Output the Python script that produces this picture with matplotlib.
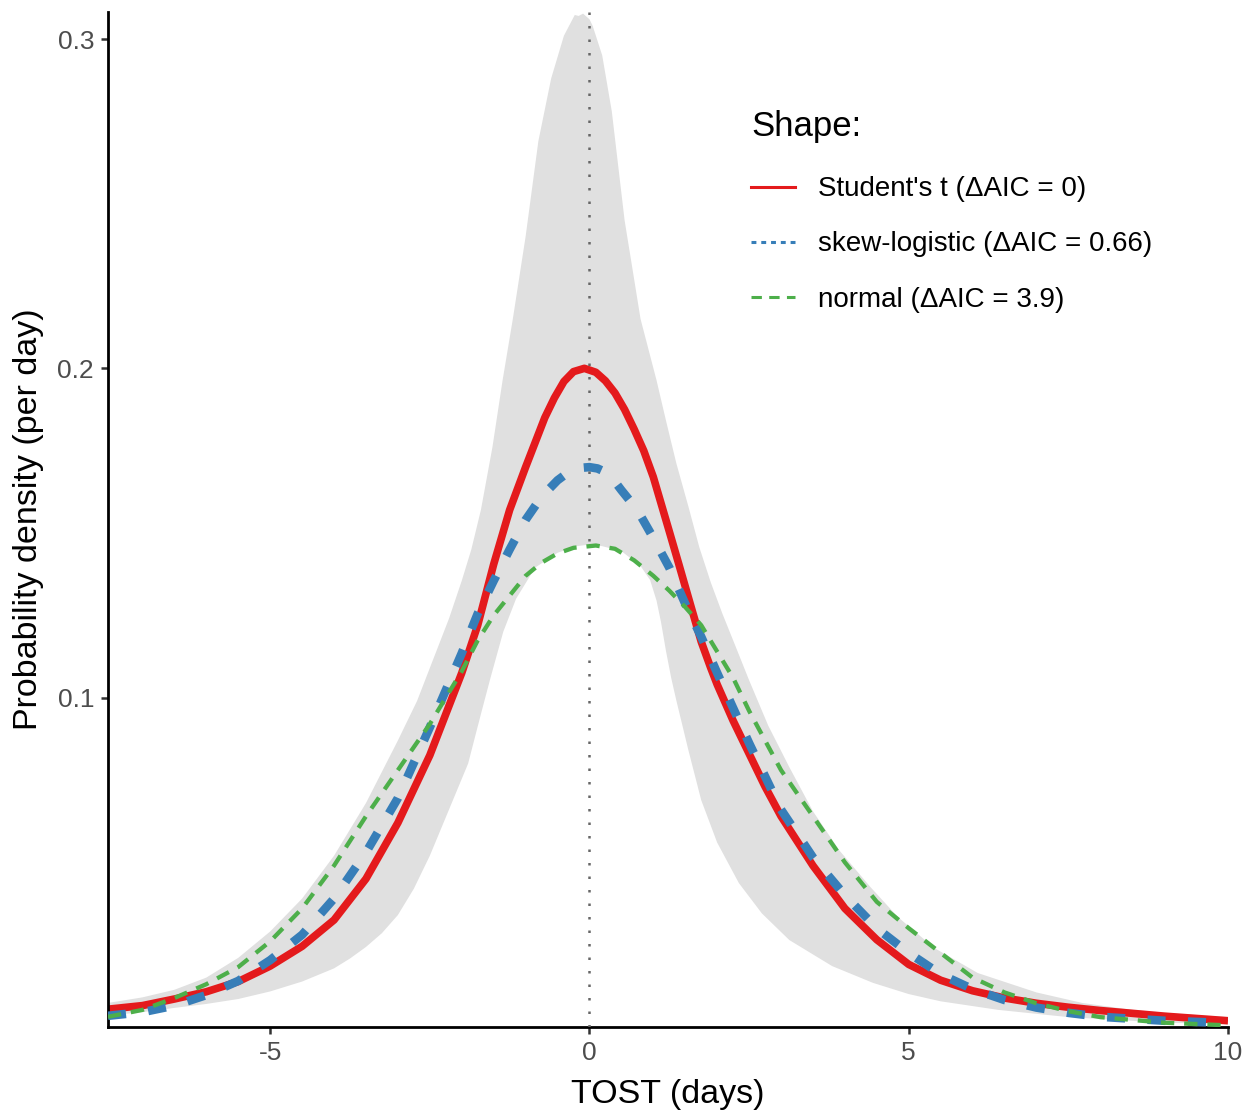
import numpy as np
import matplotlib
matplotlib.use("Agg")
import matplotlib.pyplot as plt
from matplotlib.lines import Line2D

plt.rcParams['font.family'] = ['Liberation Sans', 'DejaVu Sans']

# ---- data ----
band_hi_x = [-7.54, -7.0, -6.5, -6.0, -5.5, -5.0, -4.5, -4.0, -3.5, -3.0, -2.7, -2.45, -2.2, -2.0,
             -1.85, -1.7, -1.52, -1.36, -1.2, -1.0, -0.8, -0.6, -0.4, -0.23, -0.17, -0.1, 0.0,
             0.05, 0.2, 0.35, 0.55, 0.8, 1.05, 1.2, 1.36, 1.55, 1.72, 1.9, 2.08, 2.3, 2.5, 2.8,
             3.13, 3.5, 3.91, 4.4, 4.83, 5.4, 6.08, 7.0, 7.72, 8.5, 9.2, 10.0]
band_hi_y = [0.0073, 0.0090, 0.0113, 0.0150, 0.0210, 0.0290, 0.0390, 0.0520, 0.0680, 0.0870, 0.0990,
             0.1115, 0.1240, 0.1355, 0.1450, 0.1570, 0.1760, 0.1964, 0.2150, 0.2400, 0.2690, 0.2880,
             0.3010, 0.3073, 0.3070, 0.3077, 0.3060, 0.3040, 0.2950, 0.2780, 0.2450, 0.2150, 0.1964,
             0.1840, 0.1712, 0.1580, 0.1457, 0.1350, 0.1256, 0.1150, 0.1053, 0.0915, 0.0789, 0.0655,
             0.0537, 0.0425, 0.0334, 0.0240, 0.0164, 0.0105, 0.0073, 0.0052, 0.0040, 0.0030]

band_lo_x = [-7.54, -7.0, -6.5, -6.0, -5.5, -5.0, -4.5, -4.0, -3.75, -3.5, -3.25, -3.0, -2.75, -2.5,
             -2.2, -1.9, -1.7, -1.55, -1.35, -1.15, -0.85, -0.5, -0.2, 0.0, 0.2, 0.5, 0.8, 0.95,
             1.05, 1.12, 1.2, 1.28, 1.36, 1.55, 1.75, 2.0, 2.34, 2.7, 3.13, 3.8, 4.44, 5.0, 5.5,
             6.4, 7.5, 9.0, 10.0]
band_lo_y = [0.0035, 0.0045, 0.0058, 0.0070, 0.0085, 0.0108, 0.0138, 0.0178, 0.0208, 0.0243, 0.0285,
             0.0340, 0.0420, 0.0520, 0.0660, 0.0800, 0.0950, 0.1060, 0.1200, 0.1300, 0.1395, 0.1440,
             0.1460, 0.1465, 0.1460, 0.1445, 0.1400, 0.1357, 0.1295, 0.1230, 0.1140, 0.1060, 0.0992,
             0.0840, 0.0689, 0.0560, 0.0437, 0.0345, 0.0264, 0.0185, 0.0134, 0.0100, 0.0078, 0.0052,
             0.0030, 0.0013, 0.0009]

t_x = [-7.54, -7.0, -6.5, -6.0, -5.5, -5.0, -4.5, -4.0, -3.5, -3.0, -2.5, -2.0, -1.75, -1.5, -1.25,
       -1.0, -0.85, -0.7, -0.55, -0.4, -0.25, -0.08, 0.1, 0.25, 0.4, 0.55, 0.7, 0.85, 1.0, 1.25,
       1.4, 1.6, 1.75, 1.9, 2.0, 2.25, 2.5, 2.75, 3.0, 3.5, 4.0, 4.5, 5.0, 5.5, 6.0, 6.5, 7.0,
       7.5, 8.0, 9.0, 10.0]
t_y = [0.0054, 0.0065, 0.0085, 0.0107, 0.0138, 0.0185, 0.0245, 0.0325, 0.0450, 0.0620, 0.0825,
       0.1075, 0.1220, 0.1405, 0.1570, 0.1700, 0.1775, 0.1850, 0.1910, 0.1960, 0.1990, 0.2000,
       0.1988, 0.1962, 0.1925, 0.1875, 0.1815, 0.1750, 0.1670, 0.1505, 0.1405, 0.1270, 0.1170,
       0.1090, 0.1040, 0.0930, 0.0830, 0.0730, 0.0640, 0.0490, 0.0360, 0.0265, 0.0190, 0.0142,
       0.0110, 0.0088, 0.0072, 0.0060, 0.0050, 0.0033, 0.0019]

sl_x = [-7.54, -7.0, -6.5, -6.0, -5.5, -5.0, -4.5, -4.0, -3.5, -3.0, -2.5, -2.0, -1.75, -1.5, -1.25,
        -1.0, -0.75, -0.5, -0.375, -0.25, -0.125, 0.0, 0.125, 0.25, 0.375, 0.5, 0.75, 1.0, 1.25,
        1.5, 1.75, 2.0, 2.5, 3.0, 3.5, 4.0, 4.5, 5.0, 5.5, 6.0, 6.5, 7.0, 7.5, 8.0, 9.0, 10.0]
sl_y = [0.0034, 0.0045, 0.0065, 0.0097, 0.0140, 0.0203, 0.0280, 0.0390, 0.0530, 0.0695, 0.0910,
        0.1135, 0.1255, 0.1355, 0.1450, 0.1540, 0.1610, 0.1660, 0.1678, 0.1690, 0.1698, 0.1700,
        0.1696, 0.1685, 0.1662, 0.1630, 0.1570, 0.1485, 0.1395, 0.1285, 0.1185, 0.1075, 0.0862,
        0.0660, 0.0515, 0.0400, 0.0300, 0.0225, 0.0160, 0.0115, 0.0082, 0.0059, 0.0043, 0.0031,
        0.0019, 0.0012]

n_x = [-7.54, -7.0, -6.5, -6.0, -5.5, -5.0, -4.5, -4.0, -3.5, -3.0, -2.5, -2.0, -1.75, -1.5, -1.25,
       -1.0, -0.75, -0.5, -0.25, 0.1, 0.4, 0.7, 1.0, 1.25, 1.5, 1.75, 2.0, 2.25, 2.5, 3.0, 3.5,
       4.0, 4.5, 5.0, 5.5, 6.0, 6.5, 7.0, 7.5, 8.0, 9.0, 10.0]
n_y = [0.0031, 0.0052, 0.0088, 0.0130, 0.0182, 0.0260, 0.0360, 0.0490, 0.0640, 0.0780, 0.0920,
       0.1080, 0.1174, 0.1250, 0.1310, 0.1370, 0.1410, 0.1438, 0.1455, 0.1462, 0.1452, 0.1417,
       0.1370, 0.1325, 0.1275, 0.1220, 0.1140, 0.1060, 0.0960, 0.0780, 0.0640, 0.0500, 0.0380,
       0.0300, 0.0225, 0.0150, 0.0105, 0.0072, 0.0048, 0.0030, 0.0013, 0.0005]

labels = ["Student's t (\u0394AIC = 0)", "skew-logistic (\u0394AIC = 0.66)", "normal (\u0394AIC = 3.9)"]
colors = ['#E41A1C', '#377EB8', '#4DAF4A']

# ---- figure ----
fig = plt.figure(figsize=(12.58, 11.13), dpi=100)
ax = fig.add_axes([108 / 1258, 86 / 1113, 1120 / 1258, 1015 / 1113])

ax.fill(np.concatenate([band_hi_x, band_lo_x[::-1]]),
        np.concatenate([band_hi_y, band_lo_y[::-1]]),
        color='#E0E0E0', lw=0, zorder=1)

ax.plot(t_x, t_y, color=colors[0], lw=5.5, solid_capstyle='butt', solid_joinstyle='round', zorder=2)
ax.plot(sl_x, sl_y, color=colors[1], lw=6.2, dashes=(2.1, 2.6), dash_capstyle='butt', zorder=3)
ax.plot(n_x, n_y, color=colors[2], lw=3.1, dashes=(3.1, 2.3), dash_capstyle='butt', zorder=4)

ax.axvline(0, color='#666666', lw=1.8, dashes=(1, 4.4), zorder=5)

ax.set_xlim(-7.54, 10)
ax.set_ylim(0, 0.3082)
ax.set_xticks([-5, 0, 5, 10])
ax.set_xticklabels(['-5', '0', '5', '10'])
ax.set_yticks([0.1, 0.2, 0.3])
ax.set_yticklabels(['0.1', '0.2', '0.3'])

for s in ['top', 'right']:
    ax.spines[s].set_visible(False)
for s in ['left', 'bottom']:
    ax.spines[s].set_linewidth(2.0)
    ax.spines[s].set_color('black')
ax.tick_params(axis='both', length=5, width=1.8, color='#333333', labelsize=19,
               labelcolor='#4D4D4D', pad=5)

ax.set_xlabel('TOST (days)', fontsize=24.5, labelpad=10)
ax.set_ylabel('Probability density (per day)', fontsize=24.5, labelpad=10)

handles = [
    Line2D([], [], color=colors[0], lw=2.2),
    Line2D([], [], color=colors[1], lw=2.2, dashes=(1.6, 1.6)),
    Line2D([], [], color=colors[2], lw=2.2, dashes=(3.4, 2.4)),
]
leg = ax.legend(handles, labels, title='Shape:', loc='upper left',
                bbox_to_anchor=(737 / 1258, 1 - 96 / 1113), bbox_transform=fig.transFigure,
                frameon=False, fontsize=20, title_fontsize=25, handlelength=1.6,
                handletextpad=0.8, labelspacing=1.05, alignment='left', borderpad=0)
leg.get_title().set_color('black')
# a little more room between the title and the first entry
leg._legend_box.sep = leg._legend_box.sep + 3

fig.savefig('out.png', dpi=100)
